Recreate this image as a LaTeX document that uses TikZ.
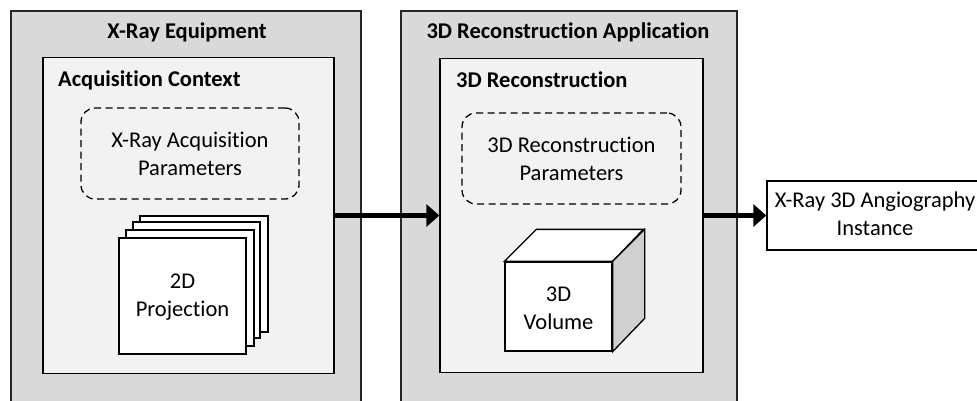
\documentclass[tikz,border=0pt]{standalone}
\usepackage{fontspec}
\setmainfont{Carlito}[Ligatures={NoCommon}]
\usetikzlibrary{arrows.meta}
\definecolor{outerfill}{HTML}{D9D9D9}
\definecolor{innerfill}{HTML}{F2F2F2}
\definecolor{sidefill}{HTML}{D0D0D0}
\tikzset{
  outerbox/.style={draw=black!85, line width=2pt, fill=outerfill, inner sep=0pt},
  innerbox/.style={draw=black, line width=1.3pt, fill=innerfill, inner sep=0pt},
  parambox/.style={draw=black, line width=1.3pt, dash pattern=on 7pt off 4.5pt,
    rounded corners=14pt, inner sep=0pt, align=center, font=\fontsize{22.5}{28}\selectfont},
  sheet/.style={draw=black, line width=1.3pt, fill=white, inner sep=0pt,
    minimum width=127pt, minimum height=116pt},
  title/.style={font=\bfseries\fontsize{22.5}{28}\selectfont, inner sep=0pt},
  label/.style={align=center, font=\fontsize{22.5}{28}\selectfont, inner sep=0pt},
  flow/.style={line width=4.5pt, -{Triangle[length=13pt,width=22pt]}},
  facepath/.style={draw=black, line width=1.3pt, line join=miter}
}
\begin{document}
\begin{tikzpicture}[x=1pt, y=-1pt]
\useasboundingbox (0,0) rectangle (977,400);
\clip (0,0) rectangle (977,400);

% --- X-Ray Equipment ---
\node[outerbox, minimum width=350pt, minimum height=420pt] (equip) at (186,221) {};
\node[title] (equiptitle) at (187,32) {X-Ray Equipment};
\node[innerbox, minimum width=291pt, minimum height=316pt] (acq) at (188.5,215.5) {};
\node[title, anchor=west] (acqtitle) at (58,80) {Acquisition Context};
\node[parambox, minimum width=218pt, minimum height=91pt] (acqpar) at (190,153.5)
  {X-Ray Acquisition\\Parameters};

% stacked projection sheets, back to front
\node[sheet, minimum width=128pt] (s4) at (204,274) {};
\node[sheet] (s3) at (196.5,280) {};
\node[sheet, minimum width=128pt] (s2) at (190,288) {};
\node[sheet] (s1) at (182.5,296) {};
\node[label] (proj) at (182.5,297) {2D\\Projection};

% --- 3D Reconstruction Application ---
\node[outerbox, minimum width=336pt, minimum height=420pt] (app) at (569,221) {};
\node[title] (apptitle) at (568,32) {3D Reconstruction Application};
\node[innerbox, minimum width=263pt, minimum height=314pt] (rec) at (571.5,215.5) {};
\node[title, anchor=west] (rectitle) at (456,80) {3D Reconstruction};
\node[parambox, minimum width=219pt, minimum height=91pt] (recpar) at (571.5,158.5)
  {3D Reconstruction\\Parameters};

% 3D volume cube
\node[draw=black, line width=1.3pt, fill=white, inner sep=0pt,
  minimum width=107pt, minimum height=89pt] (cube) at (558.5,306.5) {};
\filldraw[facepath, fill=white] (cube.north west) -- ++(32,-32) -- ++(107,0)
  -- (cube.north east) -- cycle;
\filldraw[facepath, fill=sidefill] (cube.north east) -- ++(32,-32) -- ++(0,89)
  -- (cube.south east) -- cycle;
\node[label] (vol) at (558.5,308) {3D\\Volume};

% --- Output instance ---
\node[draw=black, line width=1.3pt, fill=white, inner sep=0pt,
  minimum width=216pt, minimum height=69pt] (out) at (875,215.5) {};
\node[label] (outtxt) at (875,214) {X-Ray 3D Angiography\\Instance};

% --- data flow ---
\draw[flow] (acq.east) -- (rec.west);
\draw[flow] (rec.east) -- (out.west);
\end{tikzpicture}
\end{document}
